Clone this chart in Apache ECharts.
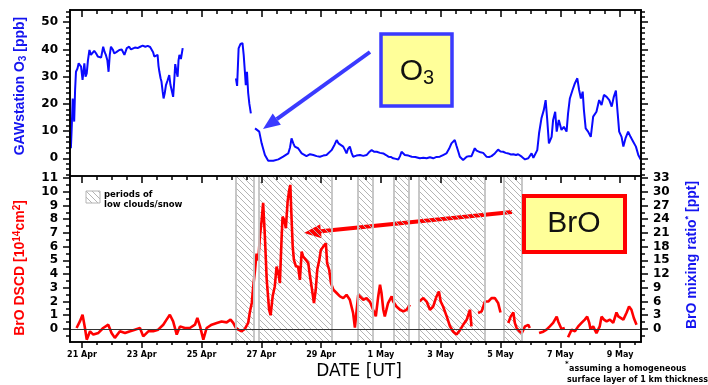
<!DOCTYPE html>
<html>
<head>
<meta charset="utf-8">
<script src="https://cdn.jsdelivr.net/npm/echarts@6/dist/echarts.min.js"></script>
<style>
  html, body { margin: 0; padding: 0; background: #fff; }
  #chart { width: 708px; height: 385px; }
</style>
</head>
<body>
<div id="chart"></div>
<script>
// x values are days since 21 Apr 00:00 UT
const dayTicks = [0, 2, 4, 6, 8, 10, 12, 14, 16, 18];
const dayLabels = ["21 Apr", "23 Apr", "25 Apr", "27 Apr", "29 Apr", "1 May", "3 May", "5 May", "7 May", "9 May"];

// GAW station ozone [ppb], null = no data
const o3Days = [
  -0.40, -0.37, -0.34, -0.31, -0.26, -0.23, -0.20, -0.15, -0.11, -0.07, -0.03, 0.02, 0.08, 0.12, 0.16, 0.20,
  0.25, 0.30, 0.36, 0.41, 0.47, 0.53, 0.58, 0.64, 0.71, 0.76, 0.80, 0.85, 0.89, 0.93, 0.97, 1.03, 1.08, 1.15,
  1.25, 1.33, 1.42, 1.50, 1.58, 1.64, 1.69, 1.77, 1.86, 1.95, 2.03, 2.12, 2.20, 2.28, 2.34, 2.38, 2.42, 2.48,
  2.53, 2.56, 2.59, 2.63, 2.66, 2.70, 2.73, 2.77, 2.81, 2.86, 2.92, 2.96, 3.01, 3.05, 3.09, 3.12, 3.16, 3.20,
  3.23, 3.26, 3.31, 3.37,
  4.20,
  5.15, 5.19, 5.24, 5.30, 5.37, 5.41, 5.45, 5.48, 5.52, 5.56, 5.60, 5.65,
  5.72,
  5.79, 5.93, 6.01, 6.12, 6.23, 6.40, 6.57, 6.73, 6.90, 6.96, 7.01, 7.07, 7.12, 7.23, 7.35, 7.51, 7.63, 7.74,
  7.85, 7.96, 8.07, 8.18, 8.35, 8.45, 8.52, 8.58, 8.63, 8.74, 8.80, 8.85, 8.90, 8.96, 9.02, 9.07, 9.18, 9.30,
  9.41, 9.52, 9.60, 9.69, 9.78, 9.86, 9.97, 10.08, 10.17, 10.25, 10.33, 10.41, 10.50, 10.58, 10.64, 10.69,
  10.75, 10.80, 10.92, 11.03, 11.15, 11.30, 11.42, 11.53, 11.64, 11.75, 11.86, 11.97, 12.08, 12.19, 12.28,
  12.36, 12.47, 12.53, 12.59, 12.64, 12.70, 12.75, 12.87, 12.95, 13.03, 13.14, 13.20, 13.25, 13.33, 13.42,
  13.53, 13.62, 13.70, 13.81, 13.92, 14.00, 14.09, 14.17, 14.26, 14.35, 14.43, 14.52, 14.59, 14.71, 14.82,
  14.93, 15.04, 15.10, 15.15, 15.23, 15.29, 15.37, 15.45, 15.51, 15.56, 15.62, 15.71, 15.76, 15.83, 15.88,
  15.95, 16.04, 16.12, 16.21, 16.26, 16.32, 16.41, 16.49, 16.57, 16.63, 16.69, 16.75, 16.79, 16.85, 16.93,
  17.02, 17.10, 17.21, 17.30, 17.38, 17.46, 17.55, 17.64, 17.72, 17.79, 17.86, 17.92, 17.97, 18.05, 18.11,
  18.18, 18.27, 18.35, 18.44, 18.53, 18.61, 18.69
];
const o3Vals = [
  9.8, 3.7, 12, 22, 13.5, 25, 31.8, 33, 34.9, 35, 33.7, 28.8, 34.9, 30, 31.2, 36,
  39.8, 38, 38, 39.5, 38.6, 37.4, 38, 37, 41, 39, 38, 36, 31.8, 38, 41, 40, 38.6, 39,
  39.8, 40, 38, 40.5, 41, 40, 39.8, 40.7, 40.5, 41, 41.4, 41, 41.3, 40.9, 41, 39, 37.4, 37,
  38, 34, 31.8, 29.4, 28.2, 24.5, 22, 24, 26.9, 28.5, 30.6, 27, 26.9, 22.6, 29, 34.6, 32, 30,
  36, 38, 36.5, 40.5,
  null,
  29.4, 26.6, 40.4, 42, 42.3, 38, 31.8, 26.9, 31.8, 24, 20, 16.5,
  null,
  11.0, 9.8, 5.5, 1.2, -0.9, -0.9, -0.4, 0.6, 1.8, 4.0, 7.3, 5.5, 4.3, 3.7, 1.8, 0.8, 1.5, 1.2,
  0.8, 0.6, 1.0, 1.2, 3.0, 5.0, 6.7, 5.5, 4.9, 4.3, 3.0, 1.8, 3.5, 4.3, 2.0, 0.6, 1.0, 1.2,
  0.9, 1.2, 2.2, 3.0, 2.4, 2.4, 2.0, 1.8, 1.2, 0.6, 0.5, 0.0, -0.2, -0.4, 0.8, 2.4,
  1.8, 1.2, 1.0, 0.6, 0.5, 0.0, 0.2, 0.0, 0.4, 0.0, 0.5, 0.6, 1.2, 1.8, 3.5,
  5.5, 6.7, 4.5, 2.4, 0.6, 0.6, -0.6, 0.6, 0.8, 0.8, 3.7, 2.8, 3.0, 2.2, 2.0,
  0.6, 0.5, 0.8, 1.8, 3.2, 2.5, 2.4, 2.0, 1.8, 1.4, 1.5, 1.2, 1.5, 0.6, -0.4,
  0.0, 1.8, 0.2, 0.6, 3.0, 9.2, 14.7, 17.8, 21.4, 14.7, 5.5, 7.9, 14.1, 17.1, 9.8,
  14.1, 10.4, 11.6, 9.8, 16.5, 22, 25.1, 27.6, 29.4, 25.1, 22, 24.5, 17.8, 11, 9.8,
  7.9, 15.3, 17.1, 21.4, 19.6, 23.3, 22.6, 21.4, 19, 22.6, 24.9, 16.5, 9.8, 7.9, 4.3,
  7.3, 9.8, 7.9, 6.1, 4.3, 1.2, -0.4
];

// BrO DSCD [10^14 cm^-2], null = no data
const broDays = [
  -0.18, -0.07, 0.02, 0.10, 0.16, 0.27, 0.38, 0.55, 0.71, 0.88, 0.99, 1.10, 1.27, 1.44, 1.61, 1.77, 1.94,
  2.05, 2.22, 2.38, 2.55, 2.72, 2.83, 2.94, 3.05, 3.17, 3.28, 3.44, 3.61, 3.78, 3.86, 3.95, 4.06, 4.17,
  4.34, 4.51, 4.67, 4.84, 4.97, 5.06, 5.15, 5.23, 5.34, 5.45, 5.56, 5.62, 5.68, 5.73, 5.79, 5.84, 5.90,
  5.95, 6.01, 6.06, 6.12, 6.18, 6.26, 6.31, 6.38, 6.45, 6.51, 6.57, 6.62, 6.68, 6.71, 6.77, 6.82, 6.88,
  6.93, 6.97, 7.00, 7.05, 7.09, 7.16, 7.23, 7.29, 7.35, 7.40, 7.49, 7.57, 7.63, 7.68, 7.76, 7.82, 7.87,
  7.94, 7.99, 8.07, 8.16, 8.20, 8.27, 8.33, 8.41, 8.52, 8.63, 8.74, 8.85, 8.96, 9.07, 9.13, 9.24, 9.30,
  9.41, 9.52, 9.63, 9.74, 9.83, 9.91, 9.97, 10.02, 10.08, 10.13, 10.24, 10.36, 10.41, 10.52, 10.64,
  10.75, 10.86, 10.97, 11.12, 11.28, 11.42, 11.53, 11.64, 11.75, 11.86, 11.94, 12.00, 12.08, 12.20,
  12.31, 12.42, 12.53, 12.64, 12.75, 12.87, 12.98, 13.03, 13.14, 13.25, 13.37, 13.48, 13.59, 13.70,
  13.81, 13.92, 14.00, 14.13, 14.26, 14.34, 14.43, 14.48, 14.54, 14.63, 14.71, 14.82, 14.93, 14.98,
  15.13, 15.29, 15.43, 15.54, 15.65, 15.76, 15.88, 15.93, 16.04, 16.15, 16.20, 16.26, 16.38, 16.49,
  16.60, 16.71, 16.82, 16.90, 16.97, 17.01, 17.10, 17.21, 17.32, 17.38, 17.46, 17.55, 17.66, 17.77,
  17.88, 17.94, 17.99, 18.11, 18.22, 18.30, 18.38, 18.46, 18.55
];
const broVals = [
  0.07, 0.55, 1.04, 0.07, -0.78, -0.17, -0.41, -0.29, 0.07, 0.31, -0.29, -0.65, -0.17, -0.29, -0.17, -0.05, 0.07,
  -0.54, -0.17, -0.17, -0.05, 0.31, 0.68, 1.04, 0.55, -0.41, 0.19, 0.07, 0.07, 0.31, 0.8, 0.19, -0.78, 0.07,
  0.31, 0.44, 0.55, 0.48, 0.68, 0.44, 0.07, -0.05, -0.17, 0.0, 0.44, 1.28, 1.9, 3.1, 4.3, 5.5, 5.0,
  6.7, 7.9, 9.2, 6.7, 3.6, 1.4, 1.0, 2.4, 3.1, 4.55, 4.07, 3.34, 6.73, 8.18, 7.94, 7.34, 9.3,
  10.1, 10.5, 8.67, 6.0, 5.04, 4.55, 4.55, 3.58, 5.64, 5.28, 5.04, 4.8, 3.82, 3.1, 1.89, 2.86, 4.31,
  5.04, 5.76, 6.0, 6.25, 4.8, 4.31, 3.34, 2.86, 2.62, 2.37, 2.25, 2.49, 2.13, 1.16, 0.1, 2.49, 2.62,
  2.13, 2.25, 2.0, 1.4, 0.92, 2.37, 3.22, 2.62, 1.4, 0.92, 1.89, 2.37, 2.0, 1.64, 1.4,
  1.28, 1.4, 1.77, null, 2.0, 2.25, 2.0, 1.4, 1.64, 2.37, 2.73, 2.0, 1.64, 0.92,
  0.2, -0.2, -0.4, -0.1, 0.3, 0.68, 1.4, 0.19, null, 1.16, 1.28, 2.0, 2.0, 2.25,
  2.25, 1.9, 1.2, null, 0.44, 0.9, 1.2, 0.44, 0.07, -0.17, -0.3, 0.19, 0.3, 0.07,
  null, -0.3, -0.2, -0.05, 0.19, 0.44, 0.9, 0.55, 0.0, 0.07, null, -0.6, -0.05, -0.17,
  0.19, 0.44, 0.68, 0.9, 0.44, 0.0, 0.19, -0.3, 0.19, 0.9, 0.68, 0.55, 0.68, 0.44,
  1.2, 0.92, 0.8, 0.68, 1.2, 1.64, 1.4, 0.8, 0.31
];

// periods of low clouds / snow (days since 21 Apr)
const cloudStart = [5.14, 5.93, 9.22, 10.44, 11.28, 14.12];
const cloudEnd = [5.73, 8.35, 9.72, 10.94, 13.47, 14.72];

const o3Ticks = [0, 10, 20, 30, 40, 50];
const broTicks = [0, 1, 2, 3, 4, 5, 6, 7, 8, 9, 10, 11];
const pptTicks = [0, 3, 6, 9, 12, 15, 18, 21, 24, 27, 30, 33];

const xMin = -0.4, xMax = 18.7;
const axisFont = { fontFamily: "DejaVu Sans", fontWeight: "bold", fontSize: 12, color: "#000" };

function steps(from, to, step) {
    const out = [];
    for (let v = from; v <= to + 1e-9; v += step) out.push(Math.round(v * 100) / 100);
    return out;
}

function hatchCanvas() {
    const c = document.createElement("canvas");
    c.width = 6; c.height = 6;
    const g = c.getContext("2d");
    g.strokeStyle = "#b4b4b4";
    g.lineWidth = 1;
    g.beginPath();
    g.moveTo(0, 0); g.lineTo(6, 6);
    g.moveTo(-1, 5); g.lineTo(1, 7);
    g.moveTo(5, -1); g.lineTo(7, 1);
    g.stroke();
    return c;
}
const hatch = { image: hatchCanvas(), repeat: "repeat" };

// one x axis = one set of ticks (major or minor)
function xAxisDef(grid, pos, ticks, len, inside, labels) {
    return {
        type: "value", gridIndex: grid, position: pos, min: xMin, max: xMax,
        axisLine: { show: true, onZero: false, lineStyle: { color: "#000", width: 1.6 } },
        axisTick: { show: true, customValues: ticks, length: len, inside: inside, lineStyle: { color: "#000", width: 1.5 } },
        axisLabel: labels ? {
            show: true, customValues: dayTicks, margin: 9,
            fontFamily: "DejaVu Sans", fontWeight: "bold", fontSize: 8, color: "#000",
            formatter: (v) => dayLabels[dayTicks.indexOf(Math.round(v))] || ""
        } : { show: false },
        splitLine: { show: false },
        z: 5
    };
}

function yAxisDef(grid, pos, min, max, ticks, len, labels) {
    return {
        type: "value", gridIndex: grid, position: pos, min: min, max: max,
        axisLine: { show: true, onZero: false, lineStyle: { color: "#000", width: 1.6 } },
        axisTick: { show: true, customValues: ticks, length: len, inside: false, lineStyle: { color: "#000", width: 1.5 } },
        axisLabel: labels ? Object.assign({ show: true, customValues: labels, margin: 12 }, axisFont) : { show: false },
        splitLine: { show: false },
        z: 5
    };
}

const o3Data = o3Days.map((d, i) => [d, o3Vals[i] === null ? "-" : o3Vals[i]]);
const broData = broDays.map((d, i) => [d, broVals[i] === null ? "-" : broVals[i]]);

const cloudAreas = cloudStart.map((s, i) => [{ xAxis: s }, { xAxis: cloudEnd[i] }]);
const cloudEdges = [];
cloudStart.forEach((s, i) => { cloudEdges.push({ xAxis: s }, { xAxis: cloudEnd[i] }); });

function arrow(x1, y1, x2, y2, color) {
    const ang = Math.atan2(y2 - y1, x2 - x1);
    const hl = 17, hw = 7;
    const bx = x2 - hl * Math.cos(ang), by = y2 - hl * Math.sin(ang);
    const px = -Math.sin(ang) * hw, py = Math.cos(ang) * hw;
    return [
        { type: "line", silent: true, shape: { x1: x1, y1: y1, x2: bx, y2: by }, style: { stroke: color, lineWidth: 4 } },
        { type: "polygon", silent: true, shape: { points: [[x2, y2], [bx + px, by + py], [bx - px, by - py]] }, style: { fill: color } }
    ];
}

const chart = echarts.init(document.getElementById("chart"), null, { renderer: "canvas" });

chart.setOption({
    animation: false,
    backgroundColor: "#fff",
    grid: [
        { left: 70, top: 10, width: 571, height: 166 },
        { left: 70, top: 176, width: 571, height: 166 }
    ],
    xAxis: [
        xAxisDef(0, "top", steps(0, 18.5, 0.5), 4, true, false),
        xAxisDef(0, "top", dayTicks, 7, true, false),
        xAxisDef(1, "top", steps(0, 18.5, 0.5), 4, true, false),
        xAxisDef(1, "top", dayTicks, 7, true, false),
        xAxisDef(1, "bottom", steps(0, 18.5, 0.5), 3, false, true),
        xAxisDef(1, "bottom", dayTicks, 6, false, false)
    ],
    yAxis: [
        yAxisDef(0, "left", -6.5, 54.5, o3Ticks, 7, o3Ticks),
        yAxisDef(0, "left", -6.5, 54.5, steps(-6, 54, 2), 4, null),
        yAxisDef(0, "right", -6.5, 54.5, o3Ticks, 7, null),
        yAxisDef(0, "right", -6.5, 54.5, steps(-6, 54, 2), 4, null),
        yAxisDef(1, "left", -0.95, 11.15, broTicks, 7, broTicks),
        yAxisDef(1, "left", -0.95, 11.15, steps(-0.5, 11, 0.5), 4, null),
        yAxisDef(1, "right", -2.85, 33.45, pptTicks, 7, pptTicks),
        yAxisDef(1, "right", -2.85, 33.45, steps(-1.5, 33, 1.5), 4, null)
    ],
    series: [
        {
            name: "O3", type: "line", xAxisIndex: 0, yAxisIndex: 0, data: o3Data,
            showSymbol: false, connectNulls: false, z: 3,
            lineStyle: { color: "#0a0aff", width: 2 }
        },
        {
            name: "BrO", type: "line", xAxisIndex: 4, yAxisIndex: 4, data: broData,
            showSymbol: false, connectNulls: false, z: 3,
            lineStyle: { color: "#ff0000", width: 2.6 },
            markArea: {
                silent: true,
                itemStyle: { color: hatch, borderWidth: 0 },
                data: cloudAreas
            },
            markLine: {
                silent: true, symbol: "none", label: { show: false },
                lineStyle: { color: "#c2c2c2", width: 1.8, type: "solid" },
                data: cloudEdges.concat([{ yAxis: 0, lineStyle: { color: "#333", width: 1.2 } }])
            }
        }
    ],
    graphic: [
        // axis titles
        {
            type: "text", x: 20, y: 86, rotation: Math.PI / 2, silent: true,
            style: {
                text: "{a|GAWstation O}{s|3}{a| [ppb]}",
                align: "center", verticalAlign: "middle",
                rich: {
                    a: { fontFamily: "Liberation Sans", fontWeight: "bold", fontSize: 14, fill: "#1414f0", lineHeight: 16 },
                    s: { fontFamily: "Liberation Sans", fontWeight: "bold", fontSize: 10, fill: "#1414f0", lineHeight: 16, verticalAlign: "bottom", padding: [6, 0, 0, 0] }
                }
            }
        },
        {
            type: "text", x: 20, y: 268, rotation: Math.PI / 2, silent: true,
            style: {
                text: "{a|BrO DSCD [10}{p|14}{a|cm}{p|2}{a|]}",
                align: "center", verticalAlign: "middle",
                rich: {
                    a: { fontFamily: "Liberation Sans", fontWeight: "bold", fontSize: 14, fill: "#ff0000", lineHeight: 16 },
                    p: { fontFamily: "Liberation Sans", fontWeight: "bold", fontSize: 10, fill: "#ff0000", lineHeight: 16, verticalAlign: "top", padding: [0, 0, 6, 0] }
                }
            }
        },
        {
            type: "text", x: 692, y: 255, rotation: Math.PI / 2, silent: true,
            style: {
                text: "{a|BrO mixing ratio}{p|*}{a| [ppt]}",
                align: "center", verticalAlign: "middle",
                rich: {
                    a: { fontFamily: "Liberation Sans", fontWeight: "bold", fontSize: 14, fill: "#1414f0", lineHeight: 16 },
                    p: { fontFamily: "Liberation Sans", fontWeight: "bold", fontSize: 9, fill: "#1414f0", lineHeight: 16, verticalAlign: "top", padding: [0, 0, 6, 0] }
                }
            }
        },
        {
            type: "text", x: 359, y: 372, silent: true,
            style: { text: "DATE [UT]", fontFamily: "DejaVu Sans", fontSize: 17, fill: "#000", align: "center", verticalAlign: "middle" }
        },
        // footnote
        {
            type: "text", x: 565, y: 364, silent: true,
            style: { text: "*", fontFamily: "DejaVu Sans", fontWeight: "bold", fontSize: 7, fill: "#000", align: "left", verticalAlign: "middle" }
        },
        {
            type: "text", x: 569, y: 369, silent: true,
            style: { text: "assuming a homogeneous", fontFamily: "DejaVu Sans", fontWeight: "bold", fontSize: 8, fill: "#000", align: "left", verticalAlign: "middle" }
        },
        {
            type: "text", x: 567, y: 380, silent: true,
            style: { text: "surface layer of 1 km thickness", fontFamily: "DejaVu Sans", fontWeight: "bold", fontSize: 8, fill: "#000", align: "left", verticalAlign: "middle" }
        },
        // hatched legend
        {
            type: "rect", x: 86, y: 191, silent: true, shape: { width: 14, height: 12 },
            style: { fill: hatch, stroke: "#b4b4b4", lineWidth: 1 }
        },
        {
            type: "text", x: 104, y: 195, silent: true,
            style: { text: "periods of", fontFamily: "DejaVu Sans", fontWeight: "bold", fontSize: 8.5, fill: "#000", align: "left", verticalAlign: "middle" }
        },
        {
            type: "text", x: 104, y: 205, silent: true,
            style: { text: "low clouds/snow", fontFamily: "DejaVu Sans", fontWeight: "bold", fontSize: 8.5, fill: "#000", align: "left", verticalAlign: "middle" }
        },
        // O3 callout
        {
            type: "rect", x: 381, y: 34, silent: true, z: 10, shape: { width: 71, height: 72 },
            style: { fill: "#ffff99", stroke: "#3a3aff", lineWidth: 3.5 }
        },
        {
            type: "text", x: 417, y: 72, silent: true, z: 11,
            style: {
                text: "{a|O}{s|3}", align: "center", verticalAlign: "middle",
                rich: {
                    a: { fontFamily: "Liberation Sans", fontSize: 30, fill: "#111", lineHeight: 32 },
                    s: { fontFamily: "Liberation Sans", fontSize: 20, fill: "#111", lineHeight: 32, verticalAlign: "bottom", padding: [8, 0, 0, 0] }
                }
            }
        },
        ...arrow(370, 52, 263, 129, "#3a3aff"),
        // BrO callout
        {
            type: "rect", x: 524, y: 196, silent: true, z: 10, shape: { width: 101, height: 56 },
            style: { fill: "#ffff99", stroke: "#ff0000", lineWidth: 4 }
        },
        {
            type: "text", x: 574, y: 224, silent: true, z: 11,
            style: { text: "BrO", fontFamily: "Liberation Sans", fontSize: 30, fill: "#111", align: "center", verticalAlign: "middle" }
        },
        ...arrow(512, 212, 304, 233, "#ff0000")
    ]
});
</script>
</body>
</html>
